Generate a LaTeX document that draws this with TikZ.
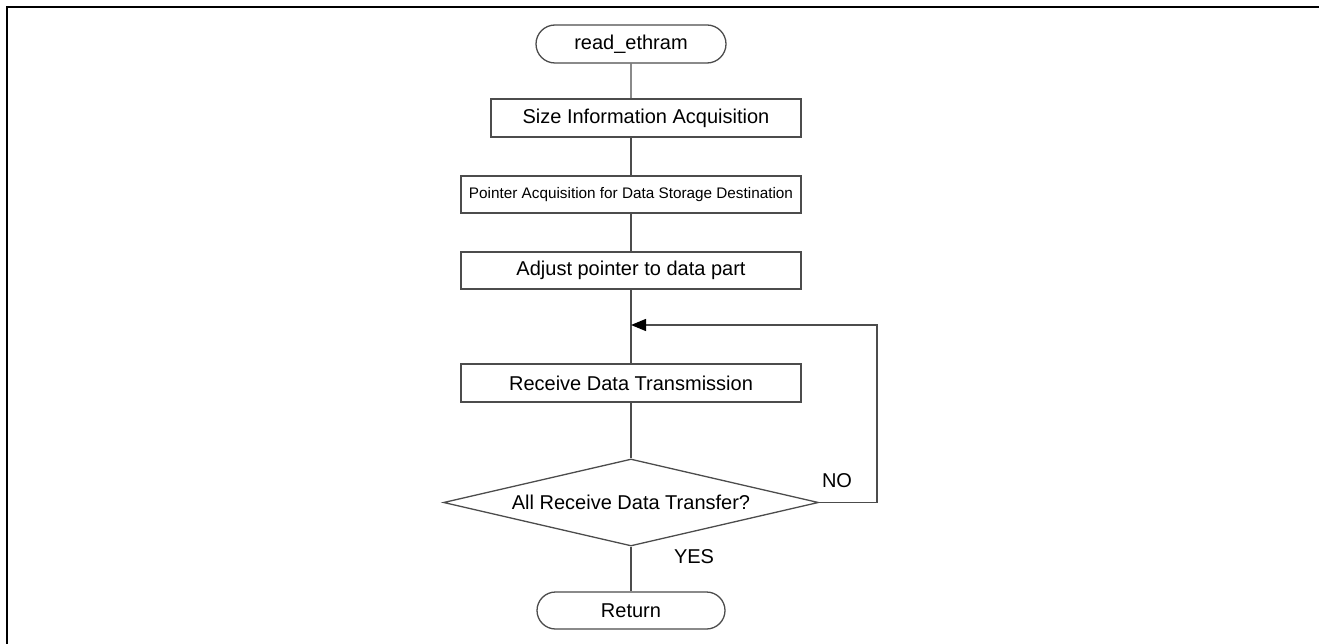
\documentclass[tikz,border=0pt]{standalone}
\usepackage{fontspec}
\setmainfont{Liberation Sans}
\usetikzlibrary{shapes.geometric,shapes.misc,arrows.meta}
\begin{document}
\begin{tikzpicture}[x=1pt,y=-1pt,
  conn/.style={draw=black!70,line width=1.3pt},
  txt/.style={font=\fontsize{20}{22}\selectfont},
  proc/.style={conn,rectangle,minimum width=340pt,minimum height=37pt,inner sep=0pt,txt},
  term/.style={conn,rounded rectangle,minimum width=190pt,minimum height=38pt,inner sep=0pt,txt},
  decision/.style={conn,diamond,aspect=4.31,minimum width=375pt,minimum height=87pt,inner sep=0pt,txt},
  lbl/.style={inner sep=0pt,txt}]
\useasboundingbox (0,0) rectangle (1319,644);
\draw[line width=2pt] (7,644) -- (7,7) -- (1319,7);
\node[term] (start) at (631,44) {read\_ethram};
\node[proc,minimum width=310pt,minimum height=38pt] (size) at (646,118) {Size Information Acquisition};
\node[proc,font=\fontsize{15.3}{17}\selectfont] (ptr) at (631,194.5) {Pointer Acquisition for Data Storage Destination};
\node[proc] (adj) at (631,270.5) {Adjust pointer to data part};
\node[proc,minimum height=38pt] (recv) at (631,383) {Receive Data Transmission};
\node[decision] (dec) at (631,502.5) {All Receive Data Transfer?};
\node[term,minimum width=188pt,minimum height=37pt] (ret) at (631,610.5) {Return};
\coordinate (merge) at (631,325);
\coordinate (loopc) at (877,325);
\draw[conn] (start) -- (start |- size.north);
\draw[conn] (start |- size.south) -- (ptr);
\draw[conn] (ptr) -- (adj);
\draw[conn] (adj) -- (recv);
\draw[conn] (recv) -- (dec);
\draw[conn] (dec) -- (ret);
\draw[conn,-{Triangle[length=15pt,width=12pt,fill=black,color=black]}] (dec.east) -| (loopc) -- (merge);
\node[lbl] (no) at (837,481) {NO};
\node[lbl] (yes) at (694,557) {YES};
\end{tikzpicture}
\end{document}
